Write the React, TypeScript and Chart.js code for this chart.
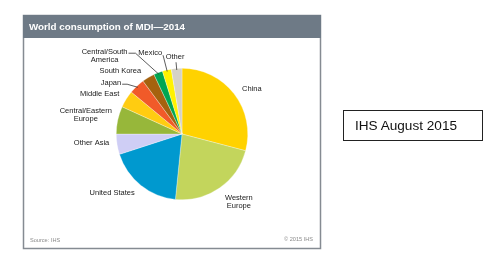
import React, { useEffect, useRef } from "react";
import { Chart, registerables } from "chart.js";

Chart.register(...registerables);

const categories = [
  "China",
  "Western\nEurope",
  "United States",
  "Other Asia",
  "Central/Eastern\nEurope",
  "Middle East",
  "Japan",
  "South Korea",
  "Central/South\nAmerica",
  "Mexico",
  "Other",
];
const shares = [29.1, 22.5, 18.4, 5.0, 6.8, 4.2, 3.9, 3.1, 2.2, 2.2, 2.6];
const sliceColors = [
  "#FFD200", "#C3D55C", "#0099CF", "#CFCEF5", "#97B73A", "#FFCC11",
  "#F15A29", "#A5620E", "#00A651", "#FFF200", "#D5D2C6",
];
const titleText = "World consumption of MDI\u20142014";
const sourceText = "Source: IHS";
const copyrightText = "\u00A9 2015 IHS";
const noteText = "IHS August 2015";

// label placement relative to the outer midpoint of each slice
const labelDx = [8, 19.4, -28.6, -7.8, -32, -7, -15.7, -7.2, -53.6, -4.8, -1.6];
const labelDy = [-4.7, 9.7, 7.6, -1.3, -9.1, -5, -3, -6.3, -20.5, -16.8, -11.2];
const labelAlign: CanvasTextAlign[] = [
  "left", "center", "center", "right", "center", "right", "right", "right", "center", "right", "center",
];
// leader: null | {from: 'right'|'bottom', elbow}
const leaders: ({ from: string; elbow: number } | null)[] = [
  null, null, null, null, null, null,
  { from: "right", elbow: 5 },
  null,
  { from: "right", elbow: 7 },
  { from: "right", elbow: 0 },
  { from: "bottom", elbow: 0 },
];

const LABEL_FONT = '7.5px "Liberation Sans", Arial, sans-serif';
const LINE_H = 8;

const framePlugin = {
  id: "frame",
  beforeDraw(chart: any) {
    const ctx = chart.ctx as CanvasRenderingContext2D;
    ctx.save();
    ctx.fillStyle = "#ffffff";
    ctx.fillRect(0, 0, chart.width, chart.height);
    // panel
    ctx.strokeStyle = "#858b92";
    ctx.lineWidth = 1.5;
    ctx.strokeRect(23.5, 15.5, 297, 233);
    ctx.fillStyle = "#6E7A86";
    ctx.fillRect(23, 15, 298, 23);
    ctx.fillStyle = "#ffffff";
    ctx.font = 'bold 9.8px "Liberation Sans", Arial, sans-serif';
    ctx.textBaseline = "alphabetic";
    ctx.textAlign = "left";
    ctx.fillText(titleText, 29, 29.6);
    // footers
    ctx.fillStyle = "#8a8a8a";
    ctx.font = '5.6px "Liberation Sans", Arial, sans-serif';
    ctx.textBaseline = "middle";
    ctx.fillText(sourceText, 30, 240);
    ctx.textAlign = "right";
    ctx.fillText(copyrightText, 313, 239.5);
    ctx.restore();
  },
  afterDatasetsDraw(chart: any) {
    const ctx = chart.ctx as CanvasRenderingContext2D;
    const meta = chart.getDatasetMeta(0);
    ctx.save();
    ctx.font = LABEL_FONT;
    ctx.textBaseline = "middle";
    ctx.fillStyle = "#1a1a1a";
    ctx.strokeStyle = "#333333";
    ctx.lineWidth = 0.8;
    meta.data.forEach((arc: any, i: number) => {
      const { x, y, startAngle, endAngle, outerRadius } = arc.getProps(
        ["x", "y", "startAngle", "endAngle", "outerRadius"],
        true
      );
      const a = (startAngle + endAngle) / 2;
      const px = x + Math.cos(a) * outerRadius;
      const py = y + Math.sin(a) * outerRadius;
      const lx = px + labelDx[i];
      const ly = py + labelDy[i];
      const lines = categories[i].split("\n");
      ctx.textAlign = labelAlign[i];
      lines.forEach((ln, k) => ctx.fillText(ln, lx, ly + k * LINE_H));
      const ld = leaders[i];
      if (ld) {
        const w = ctx.measureText(lines[0]).width;
        let right = lx;
        if (labelAlign[i] === "center") right = lx + w / 2;
        if (labelAlign[i] === "left") right = lx + w;
        const ex = x + Math.cos(a) * (outerRadius - 1.5);
        const ey = y + Math.sin(a) * (outerRadius - 1.5);
        ctx.beginPath();
        if (ld.from === "right") {
          const sx = right + 1;
          const sy = ly + (ld.elbow ? 1 : 2);
          ctx.moveTo(sx, sy);
          if (ld.elbow) ctx.lineTo(sx + ld.elbow, sy);
        } else {
          ctx.moveTo(lx + 1, ly + 5);
        }
        ctx.lineTo(ex, ey);
        ctx.stroke();
      }
    });
    ctx.restore();
  },
};

export default function App() {
  const ref = useRef<HTMLCanvasElement | null>(null);
  useEffect(() => {
    if (!ref.current) return;
    const chart = new Chart(ref.current, {
      type: "pie",
      data: {
        labels: categories.map((c) => c.replace("\n", " ")),
        datasets: [
          {
            data: shares,
            backgroundColor: sliceColors,
            borderColor: "rgba(255,255,255,0.6)",
            borderWidth: 0.5,
          },
        ],
      },
      options: {
        animation: false,
        responsive: false,
        layout: { padding: { left: 116, right: 248, top: 68, bottom: 60 } },
        plugins: {
          legend: { display: false },
          tooltip: { enabled: false },
          title: { display: false },
        },
      },
      plugins: [framePlugin],
    });
    return () => chart.destroy();
  }, []);
  return (
    <div style={{ position: "absolute", left: 0, top: 0, width: 496, height: 260 }}>
      <canvas ref={ref} width={496} height={260} style={{ display: "block" }} />
      <div
        style={{
          position: "absolute",
          left: 343,
          top: 110,
          width: 140,
          height: 31,
          border: "1px solid #222",
          boxSizing: "border-box",
          font: '13.6px "Liberation Sans", Arial, sans-serif',
          color: "#111",
          lineHeight: "29px",
          paddingLeft: 11,
          whiteSpace: "nowrap",
        }}
      >
        {noteText}
      </div>
    </div>
  );
}
